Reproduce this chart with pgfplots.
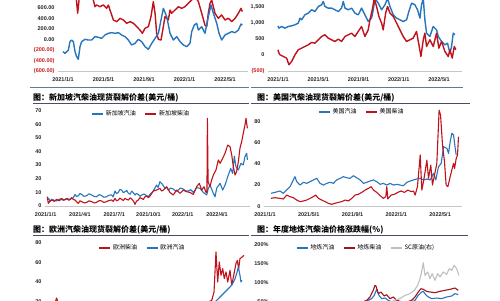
\documentclass[border=0pt]{standalone}
\usepackage{fontspec}
\setmainfont{Liberation Sans}
\newfontfamily\cjk{Noto Sans CJK SC}
\usepackage{pgfplots}
\pgfplotsset{compat=1.18}
\definecolor{cblue}{RGB}{38,118,190}
\definecolor{cred}{RGB}{192,18,28}
\definecolor{cdred}{RGB}{160,20,30}
\definecolor{cgray}{RGB}{192,192,192}
\definecolor{tline}{RGB}{70,80,100}
\definecolor{sline}{RGB}{100,120,150}
\definecolor{negred}{RGB}{200,30,30}
\pgfplotsset{
 panel/.style={scale only axis, anchor=south west,
   axis x line*=bottom, axis y line*=left,
   x axis line style={draw=gray!45,-}, y axis line style={draw=none},
   major tick length=0pt,
   tick label style={font=\bfseries\fontsize{5.5}{6}\selectfont, text=black!85},
   /pgf/number format/assume math mode=true,
   xticklabel style={anchor=center, yshift=-8.5pt},
   yticklabel style={anchor=east},
   legend style={draw=none, fill=none, font=\cjk\fontsize{6}{7}\selectfont,
     legend columns=-1, anchor=center, inner sep=0pt,
     /tikz/every even column/.append style={column sep=7pt}},
   legend image code/.code={\draw[##1, line width=1.2pt] (0pt,0pt) -- (11pt,0pt);},
   every axis plot/.append style={line width=1.1pt, line join=round, no marks},
 }
}
\newcommand{\ttl}[1]{{\cjk\bfseries\fontsize{8}{9}\selectfont #1}}
\begin{document}
\begin{tikzpicture}
\useasboundingbox (0pt,0pt) rectangle (500pt,300pt);
\clip (0pt,0pt) rectangle (500pt,300pt);
\fill[white] (0pt,0pt) rectangle (500pt,300pt);

% ---------- top left ----------
\begin{axis}[panel, at={(58pt,228.5pt)}, width=190pt, height=74.2pt,
  xmin=-0.494, xmax=18.27, ymin=-600, ymax=800,
  xtick={0,4,8,12,16}, xticklabels={2021/1/1,2021/5/1,2021/9/1,2022/1/1,2022/5/1},
  ytick={-600,-400,-200,0,200,400,600},
  yticklabels={\textcolor{negred}{(600.00)},\textcolor{negred}{(400.00)},\textcolor{negred}{(200.00)},0.00,200.00,400.00,600.00},
  every axis plot/.append style={line width=1.4pt}]
\addplot[cred] coordinates {(0,850)(0.5,880)(1.0,830)(1.3,800)(1.45,500)(1.6,780)(2.0,900)(2.5,870)(2.9,820)(3.16,623)(3.32,655)(3.65,623)(3.98,655)(4.31,592)(4.48,655)(4.64,560)(4.81,466)(4.97,372)(5.3,340)(5.63,403)(5.96,372)(6.29,309)(6.62,340)(6.95,309)(7.28,246)(7.6,183)(7.84,120)(8.1,215)(8.43,246)(8.69,435)(8.92,718)(9.09,498)(9.25,120)(9.42,7)(9.68,-6)(9.91,246)(10.07,435)(10.4,372)(10.57,560)(10.73,498)(11.06,560)(11.39,623)(11.72,592)(12.05,623)(12.38,686)(12.71,749)(13.04,812)(13.37,718)(13.7,498)(14.02,277)(14.19,246)(14.35,498)(14.52,686)(14.68,749)(14.85,623)(15.01,498)(15.34,403)(15.67,466)(16.0,372)(16.33,403)(16.66,340)(16.99,403)(17.32,498)(17.58,592)(17.71,529)};
\addplot[cblue] coordinates {(0,-226)(0.2,-257)(0.53,-194)(0.69,-37)(0.86,-6)(1.02,-37)(1.19,-226)(1.35,-320)(1.51,-370)(1.68,-131)(1.84,-37)(2.17,7)(2.5,-6)(2.83,-6)(3.16,57)(3.49,45)(3.82,26)(4.15,89)(4.48,120)(4.81,133)(5.14,120)(5.47,133)(5.79,89)(6.12,57)(6.45,-6)(6.78,-100)(7.11,-69)(7.44,7)(7.77,-37)(8.1,-131)(8.43,-182)(8.76,-69)(9.09,26)(9.42,120)(9.68,372)(9.91,592)(10.24,435)(10.57,120)(10.9,-6)(11.23,57)(11.56,-37)(11.88,-100)(12.21,-131)(12.54,-69)(12.71,152)(12.97,277)(13.2,309)(13.37,183)(13.7,246)(14.02,120)(14.35,435)(14.62,655)(14.85,498)(15.18,309)(15.41,120)(15.67,-6)(16.0,89)(16.33,120)(16.66,152)(16.99,133)(17.32,183)(17.58,296)(17.71,277)};
\end{axis}

% ---------- top right ----------
\begin{axis}[panel, at={(268pt,228.7pt)}, width=194pt, height=74.5pt,
  xmin=-0.99, xmax=18.29, ymin=-500, ymax=1800,
  xtick={0,4,8,12,16}, xticklabels={2021/1/1,2021/5/1,2021/9/1,2022/1/1,2022/5/1},
  ytick={-500,0,500,1000,1500},
  yticklabels={\textcolor{negred}{(500)},0,500,{1,000},{1,500}},
  every axis plot/.append style={line width=1.4pt}]
\addplot[cblue] coordinates {(0,900)(0.1,833)(0.36,884)(0.7,833)(1.03,884)(1.36,904)(1.69,936)(2.02,987)(2.19,1141)(2.35,1090)(2.68,1244)(3.01,1296)(3.34,1399)(3.68,1347)(4.01,1501)(4.34,1553)(4.5,1656)(4.67,1501)(5.0,1450)(5.33,1450)(5.66,1399)(6.0,1347)(6.32,1450)(6.49,1656)(6.66,1450)(6.99,1399)(7.32,1450)(7.65,1296)(7.98,1244)(8.31,1450)(8.64,1244)(8.97,1038)(9.3,1141)(9.47,1399)(9.64,1750)(9.97,1604)(10.3,1399)(10.63,1553)(10.89,1750)(11.13,1501)(11.46,1244)(11.79,1141)(12.12,1090)(12.45,1038)(12.78,1090)(13.01,1347)(13.28,1604)(13.61,1553)(13.87,1399)(14.11,1141)(14.27,1553)(14.44,1750)(14.6,1090)(14.77,678)(15.1,575)(15.43,884)(15.76,781)(15.93,575)(16.26,421)(16.59,318)(16.85,369)(17.09,60)(17.25,266)(17.42,678)(17.58,627)};
\addplot[cred] coordinates {(0,164)(0.1,60)(0.2,9)(0.53,-42)(0.86,-93)(1.09,-298)(1.36,-196)(1.69,9)(2.02,164)(2.35,215)(2.68,266)(3.01,318)(3.34,390)(3.68,369)(4.01,472)(4.34,575)(4.67,627)(5.0,524)(5.33,472)(5.66,421)(6.0,493)(6.32,421)(6.66,575)(6.99,627)(7.32,678)(7.65,575)(7.98,730)(8.31,884)(8.64,575)(8.97,781)(9.14,1090)(9.37,1399)(9.57,1750)(9.8,1501)(10.03,1193)(10.3,987)(10.46,781)(10.7,1296)(10.89,1501)(11.13,1296)(11.46,1193)(11.79,987)(12.12,781)(12.45,575)(12.78,421)(13.11,472)(13.44,524)(13.77,730)(14.01,318)(14.21,-42)(14.44,472)(14.6,678)(14.77,266)(15.1,472)(15.43,266)(15.76,678)(15.99,215)(16.26,421)(16.59,112)(16.92,-42)(17.09,164)(17.32,-93)(17.52,266)(17.68,164)};
\end{axis}

% separators below top panels
\draw[sline, line width=0.8pt] (30pt,213pt) -- (249pt,213pt);
\draw[sline, line width=0.8pt] (251pt,213pt) -- (463pt,213pt);

% ---------- middle left ----------
\node[anchor=west, inner sep=0pt] at (33pt,202pt) {\ttl{图：新加坡汽柴油现货裂解价差(美元/桶)}};
\draw[tline, line width=0.8pt] (33pt,197pt) -- (249pt,197pt);
\begin{axis}[panel, at={(45pt,94.3pt)}, width=205pt, height=95pt,
  xmin=-0.06, xmax=17.89, ymin=0, ymax=70,
  xtick={0,3,6,9,12,15}, xticklabels={2021/1/1,2021/4/1,2021/7/1,2021/10/1,2022/1/1,2022/4/1},
  ytick={0,10,...,70},
  legend style={at={(0.47,0.965)}}]
\addplot[cblue] coordinates {(0.14,4.2)(0.26,5.5)(0.38,3)(0.52,4.8)(0.67,4.2)(0.95,3.5)(1.25,5)(1.55,4)(1.84,5.4)(2.1,4.6)(2.42,5.9)(2.57,8.3)(2.7,6.8)(2.86,7.4)(3.0,9)(3.15,8.3)(3.35,6.9)(3.59,7.4)(3.8,8.8)(4.02,7.9)(4.25,6.8)(4.46,6.6)(4.7,8.2)(4.9,7.4)(5.1,6.2)(5.34,6.6)(5.55,7.8)(5.78,7.9)(5.9,6.5)(6.07,10.8)(6.2,8.9)(6.36,9.8)(6.5,12)(6.65,11.5)(6.8,9.6)(6.94,10.3)(7.1,11.2)(7.24,9.1)(7.4,8.5)(7.53,10.8)(7.68,9.5)(7.82,7.9)(7.95,9)(8.11,8.3)(8.25,6.9)(8.41,7.9)(8.6,8.6)(8.84,7.4)(9.0,6.8)(9.13,8.3)(9.42,10.8)(9.71,15.2)(9.85,13.5)(10.0,17.7)(10.23,15.7)(10.44,12.8)(10.6,13.6)(10.73,11.5)(10.95,13)(11.17,12.3)(11.4,10.6)(11.61,11.5)(11.8,13)(12.04,12.3)(12.25,11)(12.49,10.8)(12.7,11.8)(12.93,9.8)(13.22,13.3)(13.51,12.8)(13.8,9.8)(14.1,7.9)(14.24,12.8)(14.39,15.2)(14.68,9.1)(14.83,6.6)(14.97,12.8)(15.27,16.5)(15.5,11.5)(15.7,15.2)(15.99,22.6)(16.2,27.5)(16.37,23.8)(16.52,36.5)(16.66,28.7)(16.87,26.3)(17.1,31.2)(17.3,30)(17.45,36.1)(17.6,38.6)(17.66,33.7)};
\addlegendentry{新加坡汽油}
\addplot[cred] coordinates {(0.14,6.6)(0.23,1.7)(0.38,3.5)(0.52,4.2)(0.75,3.2)(0.96,4.7)(1.2,3.6)(1.4,5.4)(1.6,4.1)(1.84,5)(2.05,4)(2.28,5.9)(2.43,4.5)(2.57,4.2)(2.72,2.8)(2.86,1.7)(3.0,3.6)(3.15,3)(3.38,2)(3.59,2.5)(3.8,3.6)(4.02,3)(4.25,2)(4.46,2.5)(4.7,3.8)(4.9,3.5)(5.1,2.4)(5.34,3)(5.55,3.9)(5.78,4.2)(5.92,3.2)(6.07,5.4)(6.2,3.6)(6.36,4.2)(6.5,5.6)(6.65,4.7)(6.8,3.8)(6.94,5.4)(7.1,4.6)(7.24,4.2)(7.4,5.8)(7.53,5)(7.7,3.2)(7.82,1)(7.95,3.3)(8.11,4.2)(8.25,5.9)(8.41,5.4)(8.55,4.6)(8.7,6.6)(8.85,7)(8.99,5.9)(9.1,6.8)(9.2,7.9)(9.42,10.8)(9.71,11.5)(10.0,12.8)(10.15,10.8)(10.3,11.5)(10.59,14)(10.88,9.8)(11.17,7.9)(11.46,11.5)(11.76,9.1)(12.04,11.5)(12.34,10.3)(12.63,9.8)(12.93,8.3)(13.22,14)(13.45,16.5)(13.66,11.5)(13.86,14)(14.04,9.8)(14.12,10)(14.16,64.4)(14.22,17.7)(14.39,14)(14.53,18.9)(14.68,22.6)(14.91,26.3)(15.12,33.7)(15.27,31.2)(15.5,34.9)(15.7,38.6)(15.94,44.7)(16.14,43.5)(16.29,37.4)(16.43,28.7)(16.58,22.6)(16.72,25.1)(16.87,32.4)(17.01,42.3)(17.16,47.2)(17.3,53.3)(17.45,59.5)(17.54,64.4)(17.66,57)};
\addlegendentry{新加坡柴油}
\end{axis}

% ---------- middle right ----------
\node[anchor=west, inner sep=0pt] at (257pt,202pt) {\ttl{图：美国汽柴油现货裂解价差(美元/桶)}};
\draw[tline, line width=0.8pt] (251pt,197pt) -- (470pt,197pt);
\begin{axis}[panel, at={(264pt,93.7pt)}, width=198pt, height=100.9pt,
  xmin=-0.09, xmax=18.0, ymin=0, ymax=95,
  xtick={0,4,8,12,16}, xticklabels={2021/1/1,2021/5/1,2021/9/1,2022/1/1,2022/5/1},
  ytick={0,20,...,80},
  legend style={at={(0.495,0.934)}}]
\addplot[cblue] coordinates {(0.55,12.2)(0.91,13.1)(1.37,14.4)(1.68,12.2)(1.98,15.3)(2.29,18.5)(2.59,24.8)(2.74,27.9)(2.9,23.2)(3.2,20)(3.51,22.6)(3.81,21.6)(4.12,23.2)(4.42,24.8)(4.73,26.3)(5.03,21.6)(5.34,20)(5.64,21.6)(5.95,22.6)(6.25,21.6)(6.55,24.8)(6.86,26.3)(7.16,27.9)(7.47,26.9)(7.77,26.3)(8.08,28.8)(8.38,26.9)(8.69,24.8)(9.0,21.6)(9.3,22.6)(9.6,23.8)(9.91,24.8)(10.21,23.2)(10.52,20.7)(10.82,21.6)(11.13,20)(11.43,21.6)(11.74,20)(12.04,20.7)(12.35,20)(12.65,19.4)(12.96,22.6)(13.26,23.8)(13.57,24.8)(13.87,25.7)(14.18,26.3)(14.48,24.8)(14.79,25.7)(15.09,24.8)(15.4,31)(15.61,24.8)(15.85,37.3)(16.1,40.4)(16.31,56.1)(16.62,54.6)(16.77,49.8)(16.92,60.8)(17.07,68.7)(17.23,67.1)(17.38,54.6)(17.47,48.3)};
\addlegendentry{美国汽油}
\addplot[cred] coordinates {(0.55,7.5)(0.91,8.1)(1.37,7.5)(1.68,6.9)(1.98,10.6)(2.29,9.1)(2.59,8.1)(2.9,5.9)(3.2,4.4)(3.51,5)(3.81,5.9)(4.12,7.5)(4.42,9.1)(4.63,10.6)(4.88,7.5)(5.18,5.9)(5.49,4.4)(5.79,2.8)(6.1,1.9)(6.4,2.8)(6.71,3.7)(7.01,4.4)(7.32,5.9)(7.62,5)(7.93,7.5)(8.23,10.6)(8.54,11.3)(8.84,13.1)(9.15,15.3)(9.45,16.9)(9.7,18.5)(9.91,15.3)(10.21,13.1)(10.52,10)(10.82,7.5)(11.04,9.1)(11.13,18.5)(11.22,6.9)(11.52,10.6)(11.83,11.3)(12.13,13.1)(12.44,14.4)(12.74,13.1)(13.05,15.3)(13.35,13.8)(13.57,14.4)(13.72,10.6)(13.93,18.5)(14.18,48.3)(14.33,15.3)(14.48,23.2)(14.63,32.6)(14.79,43.5)(14.94,26.3)(15.15,38.8)(15.3,20)(15.49,29.5)(15.7,40.4)(15.91,90.6)(16.04,85.9)(16.22,57.7)(16.4,42)(16.55,20)(16.71,18.5)(16.92,27.9)(17.07,34.2)(17.23,40.4)(17.32,35.7)(17.47,45.1)(17.59,48.3)(17.68,65.5)};
\addlegendentry{美国柴油}
\end{axis}

% ---------- bottom left ----------
\node[anchor=west, inner sep=0pt] at (33pt,70pt) {\ttl{图：欧洲汽柴油现货裂解价差(美元/桶)}};
\draw[tline, line width=0.8pt] (33pt,64.3pt) -- (249pt,64.3pt);
\begin{axis}[panel, at={(45pt,-21pt)}, width=205pt, height=78pt,
  xmin=-0.06, xmax=17.89, ymin=0, ymax=80,
  xtick=\empty,
  ytick={0,20,...,80},
  legend style={at={(0.476,0.936)}}]
\addplot[cred] coordinates {(0,12)(0.5,15)(0.8,18)(0.96,23.6)(1.1,18)(1.5,13)(2,10)(3,8)(4,7)(5,9)(6,10)(7,11)(8,13)(9,14)(10,17)(11,15)(12,16)(13,15)(14,18)(14.54,21.2)(14.74,29.7)(14.91,70.8)(15.06,40)(15.2,60.5)(15.35,46.9)(15.5,53.7)(15.64,43.4)(15.79,50.3)(15.94,40)(16.14,52)(16.29,36.6)(16.49,48.5)(16.66,58.8)(16.78,62.2)(16.9,53.7)(17.01,63.9)(17.19,65.6)(17.36,67.3)};
\addlegendentry{欧洲柴油}
\addplot[cblue] coordinates {(0,6)(2,9)(4,14)(6,16)(8,12)(10,10)(12,8)(14,12)(14.97,21)(15.26,24.6)(15.55,28)(15.85,31.5)(16.14,34.9)(16.37,38.3)(16.58,43.4)(16.72,48.5)(16.87,55.4)(17.01,46.9)(17.1,40)(17.19,41.7)};
\addlegendentry{欧洲汽油}
\end{axis}

% ---------- bottom right ----------
\node[anchor=west, inner sep=0pt] at (257pt,70pt) {\ttl{图：年度地炼汽柴油价格涨跌幅(\%)}};
\draw[tline, line width=0.8pt] (251pt,64.3pt) -- (468pt,64.3pt);
\begin{axis}[panel, at={(272pt,-21pt)}, width=196pt, height=76pt,
  xmin=0.64, xmax=18.56, ymin=0, ymax=200,
  xtick=\empty,
  ytick={0,50,100,150,200},
  yticklabel={\pgfmathprintnumber{\tick}\%},
  legend style={at={(0.48,0.96)}}]
\addplot[cblue] coordinates {(0.7,20)(3,25)(6,30)(8,38)(9,45)(9.44,54.4)(9.75,58.8)(9.99,67.5)(10.21,83.3)(10.42,67.5)(10.67,58.8)(10.97,60.5)(11.27,54.4)(12,45)(13,42)(13.71,54.4)(14.01,67.5)(14.32,76.3)(14.47,78)(14.69,69.3)(14.93,63.2)(15.24,58.8)(15.69,60.5)(16.15,58.8)(16.61,63.2)(17.07,65.8)(17.37,71.9)(17.67,69.3)};
\addlegendentry{地炼汽油}
\addplot[cdred] coordinates {(0.7,15)(4,30)(8,40)(9.3,54.4)(9.6,63.2)(9.9,80.7)(10.05,93.9)(10.15,92)(10.36,71.9)(10.6,76.3)(10.9,65.8)(11.12,69.3)(11.43,58.8)(11.73,63.2)(12.04,54.4)(12.8,48)(13.41,54.4)(13.71,63.2)(14.01,76.3)(14.26,85)(14.47,83.3)(14.78,78)(15.08,76.3)(15.54,74.6)(16.0,78)(16.45,80.7)(16.91,83.3)(17.37,86.8)(17.67,80.7)};
\addlegendentry{地炼柴油}
\addplot[cgray] coordinates {(0.7,10)(4,25)(8,35)(10,40)(11,45)(11.88,54.4)(12.34,58.8)(12.8,67.5)(13.25,71.9)(13.65,80.7)(13.96,93.9)(14.17,111.4)(14.32,129)(14.47,153.5)(14.63,120)(14.87,129)(15.08,111.4)(15.29,124.6)(15.54,107)(15.79,124.6)(16.0,115.8)(16.3,129)(16.61,122.8)(16.85,137.7)(17.07,133.3)(17.3,146.5)(17.52,137.7)(17.73,120)};
\addlegendentry{SC原油(右)}
\end{axis}
\end{tikzpicture}
\end{document}
